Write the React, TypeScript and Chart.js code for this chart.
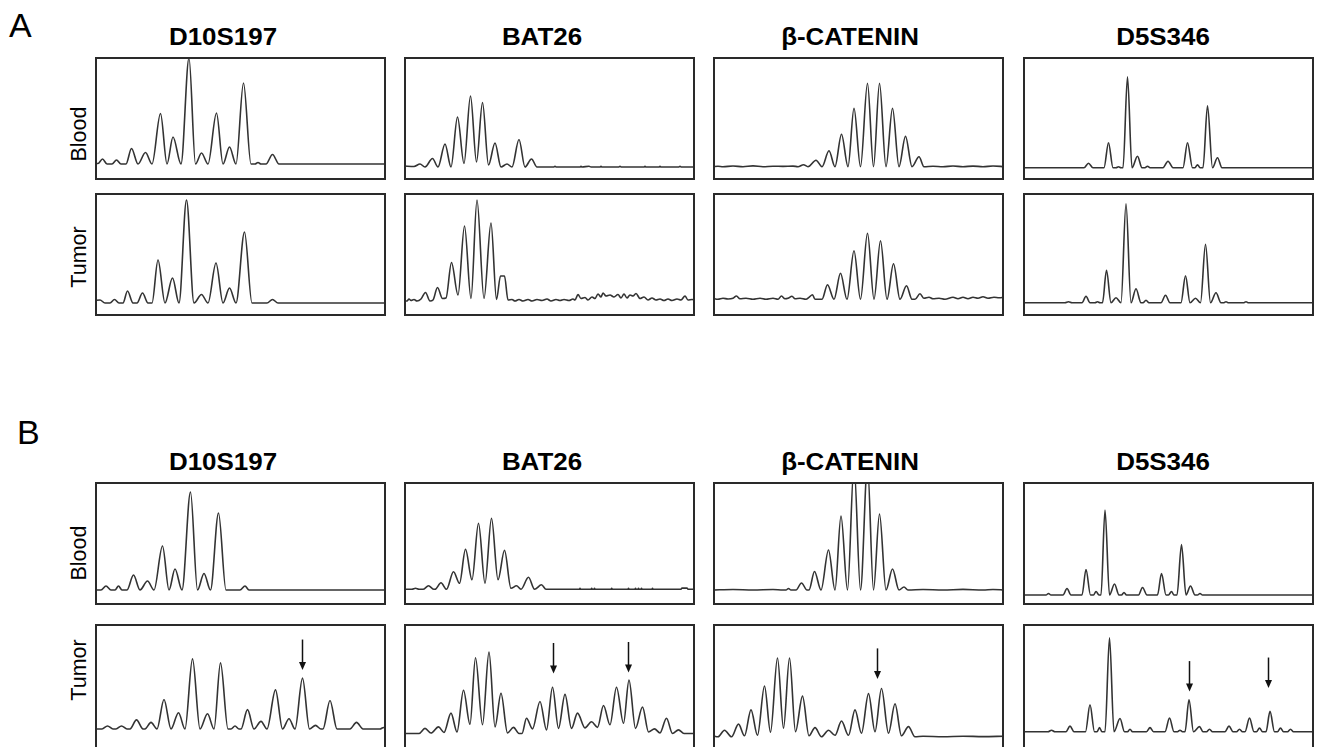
import React, { useEffect, useRef } from "react";
import { Chart, registerables } from "chart.js";

Chart.register(...registerables);

type Pt = [number, number];
type Arrow = [number, number, number]; // x, arrow top (y), arrow tip (y)

// ---------- text ----------
const figureLetters = ["A", "B"];
const markers = ["D10S197", "BAT26", "β-CATENIN", "D5S346"];
const samples = ["Blood", "Tumor"];

// ---------- traces: [size position, signal above baseline] ----------
const A_D10S197_Blood: Pt[] = [[0,1],[3,0.5],[7.5,5],[12,0],[17,0],[21.5,4],[26,0],[31,0],[36.5,15.5],[43,0],[50.5,11.5],[57,0],[65.5,50.5],[72,0],[78,27],[86,0],[94,106],[100.5,0],[106.5,11],[113,0],[121.5,51],[128,0],[134.5,17],[141,0],[148.5,81],[156,0],[160,0],[163,1.5],[166,0],[171,0],[177.5,9.5],[184,0],[291,0]];
const A_D10S197_Tumor: Pt[] = [[0,2.5],[5,3],[10,0],[15,0],[19.5,3.5],[24,0],[28,0],[32.5,12],[38,0],[42,0],[47.5,10],[53,0],[57,0],[63,43],[70,0],[77.5,25],[84,0],[91.5,103],[99,0],[106.5,8.5],[113,0],[121,40],[128,0],[134.5,15],[141,0],[149.5,71],[157,0],[172,0],[177.5,3.5],[183,0],[291,0]];
const A_BAT26_Blood: Pt[] = [[0,1],[10,0.5],[16,3],[21,0],[28.5,8.5],[34,0],[41,23],[47,0],[53.5,50],[60,3.5],[66.5,71],[72.5,5],[78.5,64.5],[84.5,2],[91,24],[97,0],[103,3],[108,0],[115,27.5],[121,0],[127.5,8],[133,0],[150,0],[151,0.8],[152,0],[176,0],[177,0.7],[178,0],[185,0.7],[187,0],[196,0],[197,0.7],[198,0],[215,0],[216,0.8],[217,0],[240,0],[241,0.7],[242,0],[255,0],[256,0.7],[257,0],[275,0],[276,0.8],[277,0],[291,0]];
const A_BAT26_Tumor: Pt[] = [[0,1],[3,0],[5,2],[7,0.5],[10,1.5],[13,0],[17,2],[21.5,8.5],[26,0],[29,1],[33.5,13.5],[38.5,2.5],[42,3],[47.5,38.5],[54,6],[60.5,75],[67,2.5],[73,101],[80,2.5],[87,78],[92.5,1.5],[96.5,25],[100.5,25],[104,1],[108,1.5],[111,0],[115,1.5],[119,0],[124,1.5],[128,0],[133,1.5],[138,0.5],[143,2],[147,0],[152,1.5],[156,0.5],[160,1.5],[165,0.5],[169,2],[171,1],[174,6.5],[177,2.5],[181,3.5],[184,1],[188,4],[191,2.5],[194,7],[197,4],[199,8],[202,5],[206,6],[210,4],[214,6.5],[217,3],[220,7],[223,3],[226,6],[229,5],[232,7.5],[236,2.5],[240,4],[244,1],[248,3],[252,1],[256,2],[260,0.5],[264,2],[268,0.5],[273,2],[277,1],[281,5],[284,1],[288,1.5],[291,1]];
const A_CATENIN_Blood: Pt[] = [[0,0],[5,0.5],[10,0],[20,0.7],[30,0],[40,0.8],[50,0],[60,0.5],[70,0.3],[80,0.6],[85,0],[90.5,2],[95,0],[103,6.5],[109,0],[116,16],[122,0],[128.5,32.5],[135,0],[141,58.5],[147.5,0],[154.5,83.5],[160.5,0],[166.5,83.5],[173,0],[179.5,58.5],[186,0],[192.5,30.5],[199,0],[206,10],[211,0],[220,0.5],[230,0],[240,0.7],[250,0],[260,0.6],[270,0],[280,0.7],[291,0]];
const A_CATENIN_Tumor: Pt[] = [[0,1],[5,0],[10,1],[15,0.3],[20,1],[23.5,3.3],[27,0.5],[33,1],[40,0],[47,1],[53,0],[60,1],[65,0],[68.5,3.3],[72,0.5],[75,1],[79,3],[82,0.5],[87,1],[93,0],[96,2],[99.5,4.5],[102,0],[109,0],[114.5,14.5],[121,0],[127.5,26],[134,0],[141,48.5],[147.5,0],[154.5,66],[161,0],[167.5,58.5],[174,0],[180.5,35.5],[187,0],[193.5,13.5],[199,0],[202,0],[207,5.5],[211,1],[216,2],[220,0.5],[226,1],[232,0],[240,2],[245,0.5],[250,2],[255,0.5],[260,2],[265,1],[270,2.5],[275,1],[281,2],[286,1.5],[291,2]];
const A_D5S346_Blood: Pt[] = [[0,0],[61,0],[65.5,4.5],[70,0],[81,0],[85.5,25],[90,0],[93,0],[95.5,1],[98,0],[100,0],[104.5,91],[109,0],[114.5,11.5],[119,0],[122,0],[124.5,1.5],[127,0],[140,0],[145,6.5],[150,0],[160,0],[164.5,25],[169.5,0],[172,0],[174.5,3],[177,0],[180,0],[184.5,62],[189.5,0],[194.5,10],[199,0],[291,0]];
const A_D5S346_Tumor: Pt[] = [[0,0],[42,0],[45.5,1],[49,0],[59,0],[63,6.5],[67,0],[72,0],[74.5,1],[77,0],[79.5,0],[83.5,32.5],[88,0],[93,5],[98,0],[103,99],[108,0],[113,14],[118,0],[120,0],[123,2.5],[126,0],[138,0],[142.5,7.5],[147,0],[158,0],[162.5,27],[167,0],[172.5,4.5],[177.5,0],[182.5,58.5],[187.5,0],[193,10],[198,0],[201,0],[203,1],[205,0],[221,0],[223,1],[225,0],[291,0]];

const B_D10S197_Blood: Pt[] = [[0,0],[6,0],[11,4],[16,0],[20,0],[23.5,4],[27,0],[32,0],[38.5,15],[45,0],[52.5,9],[59,0],[67.5,44],[74,0],[80,21],[87,0],[95.5,98],[102.5,0],[109,16.5],[115.5,0],[123.5,77],[131,0],[145,0],[150,4],[154,0],[291,0]];
const B_D10S197_Tumor: Pt[] = [[0,0],[7,0],[12.5,3],[18,0],[21,0],[26.5,3],[32,0],[35,0],[41.5,9],[48,0],[50,0],[56,6.5],[62,0],[69,29],[76,0],[83.5,16],[90,0],[97.5,69],[105,0],[112.5,15],[119,0],[125.5,65],[133,0],[136,0],[140,3],[144,0],[146,0],[152.5,19],[159,0],[166,7.5],[172,0],[180.5,38.5],[187.5,0],[194,10],[200,0],[207.5,50],[214.5,0],[220.5,3.5],[226,0],[228,0],[235,28],[242,0],[255,0],[261.5,6.5],[268,0],[285,0],[288.5,1.5],[291,0]];
const B_BAT26_Blood: Pt[] = [[0,0],[8,0],[11.5,1],[15,0],[19,0],[24.5,3.5],[30,0],[31,0],[37,6.5],[42.5,0],[49.5,17.5],[55.5,6],[61.5,40],[68,9.5],[74.5,66],[81,6],[87.5,71],[94,9.5],[100.5,39],[107,1],[112.5,3.5],[117,0],[124.5,12],[130.5,0],[137.5,4.5],[142,0],[175.5,0],[176,1],[176.5,0],[187,0],[187.7,1],[188.4,0],[190,0],[190.5,1],[191,0],[207,0],[207.7,1],[208.4,0],[224,0],[224.5,1],[225,0],[231,0],[231.5,1],[232,0],[234,0],[234.5,1],[235,0],[237,0],[237.5,1],[238,0],[248,0],[248.5,1],[249,0],[277,0],[278,1.2],[283,1.2],[284,0],[291,0]];
const B_BAT26_Tumor: Pt[] = [[0,0],[8,0],[15,0],[21,5],[27,0.5],[34.5,6.5],[40,1],[47,20],[53,1.5],[59.5,42.5],[66,9],[71.5,74.5],[78.5,8.5],[85,80],[91,6.5],[97,39.5],[103.5,0.5],[109.5,6],[115,0],[118,0],[122.5,15],[128.5,4.5],[136,31.5],[142.5,3.5],[148.5,45.5],[154.5,5],[161,38.5],[167.5,5],[173.5,20],[181,5.5],[187.5,11.5],[193.5,6],[199.5,27.5],[206,8.5],[212.5,45.5],[219.5,10],[225,52.5],[231.5,5],[238.5,26],[244.5,1.5],[250.5,4.5],[256,0.5],[262.5,15],[268.5,0],[274.5,3.5],[280,0],[291,0]];
const B_CATENIN_Blood: Pt[] = [[0,0],[20,0.5],[40,0],[60,0.5],[70,0],[73,0],[75.5,1.5],[78,0],[83,0],[88.5,7],[94,0],[96,0],[101.5,18.5],[108,0],[115.5,40],[122,0],[128,74],[134.5,0],[141,125],[147.5,0],[154.5,125],[160.5,0],[166.5,76],[173,0],[179.5,21],[186,0],[191,3],[195,0],[210,0.5],[230,0],[250,0.6],[270,0],[280,0.5],[291,0]];
const B_CATENIN_Tumor: Pt[] = [[0,1],[5,0],[11.5,6.5],[18.5,0],[25.5,12.5],[31.5,1],[38,26.5],[44.5,1.5],[51.5,50],[57.5,4.5],[64.5,77.5],[70.5,8.5],[76.5,77.5],[82.5,5],[89.5,40],[96,1],[102,9],[108.5,0],[115.5,6.5],[122,1.5],[128.5,15.5],[135.5,1.5],[142,26.5],[148.5,3.5],[155.5,42.5],[162,5],[168.5,47.5],[175.5,3.5],[182,32.5],[188.5,1],[195.5,10],[202,0],[210,0.5],[230,0],[250,0.6],[270,0.2],[291,0.5]];
const B_D5S346_Blood: Pt[] = [[0,0],[23,0],[25.5,1.5],[28,0],[40,0],[44,6.5],[48,0],[59,0],[63,25.5],[67.5,0],[70.5,0],[73,3.5],[76,0],[78,0],[82,85],[86.5,0],[91.5,11],[96,0],[98.5,0],[101,2.5],[103.5,0],[115.5,0],[119.5,7.5],[124,0],[134.5,0],[138.5,21.5],[143,0],[145.5,0],[148.5,3.5],[151,0],[154,0],[158.5,50.5],[163,0],[167.5,9],[172,0],[174.5,0],[177,1.5],[179.5,0],[291,0]];
const B_D5S346_Tumor: Pt[] = [[0,0],[25,0],[28.5,1.5],[32,0],[43,0],[47,5.5],[51,0],[62.5,0],[67,26.5],[71.5,0],[74,0],[76.5,4],[79,0],[82,0],[86.5,92.5],[91,0],[97,13],[101.5,0],[104.5,0],[107,2.5],[109.5,0],[123.5,0],[127,4],[130.5,0],[142,0],[146.5,13.5],[151,0],[154.5,0],[157,1.5],[159.5,0],[162,0],[166,31.5],[170.5,0],[176.5,5],[180,0],[183.5,0],[186.5,2.5],[189.5,0],[202,0],[206,5.5],[210,0],[213.5,0],[216.5,2.5],[219.5,0],[222,0],[226.5,13.5],[231,0],[233.5,0],[236.5,3.5],[239.5,0],[243,0],[247,20],[251.5,0],[254.5,0],[257.5,3.5],[260.5,0],[264.5,0],[267.5,2.5],[270.5,0],[291,0]];

// ---------- arrows marking new alleles in tumor ----------
const B_D10S197_Arrows: Arrow[] = [[207.3, 88, 58]];
const B_BAT26_Arrows: Arrow[] = [[149.3, 89, 59], [223.7, 90, 60]];
const B_CATENIN_Arrows: Arrow[] = [[164.3, 87, 57]];
const B_D5S346_Arrows: Arrow[] = [[166, 69.5, 39.5], [245.3, 73, 43]];

// ---------- y ranges (signal scale) per panel: [min, max] ----------
const A_Blood_Ranges: Pt[] = [[-16, 107], [-13, 110], [-13.3, 109.7], [-12.3, 110.7]];
const A_Tumor_Ranges: Pt[] = [[-13, 110], [-15, 108], [-16.7, 106.3], [-13.3, 109.7]];
const B_Blood_Ranges: Pt[] = [[-15, 108], [-15.7, 107.3], [-15, 108], [-10, 113]];
const B_Tumor_Ranges: Pt[] = [[-19.7, 103.3], [-15.3, 107.7], [-12, 111], [-17, 106]];

const X_MAX = 291;

// ---------- layout ----------
const COL_LEFT = [95, 404, 713, 1023];
const ROW_TOP = [57, 193, 482, 624];
const BOX_W = 291;
const BOX_H = 123;
const TITLE_X = [223, 542, 850, 1163];
const FONT = '"Liberation Sans", Arial, Helvetica, sans-serif';

interface PanelProps {
  points: Pt[];
  range: Pt;
  arrows: Arrow[];
  left: number;
  top: number;
  height: number;
}

function Panel({ points, range, arrows, left, top, height }: PanelProps) {
  const ref = useRef<HTMLCanvasElement | null>(null);
  useEffect(() => {
    if (!ref.current) return;
    const boxPlugin = {
      id: "boxAndArrows",
      afterDatasetsDraw(chart: any) {
        const { ctx, chartArea: a, scales } = chart;
        ctx.save();
        ctx.strokeStyle = "#2a2a2a";
        ctx.lineWidth = 2;
        ctx.strokeRect(a.left + 1, a.top + 1, a.right - a.left - 2, a.bottom - a.top - 2);
        for (const [x, yTop, yTip] of arrows) {
          const px = Math.round(scales.x.getPixelForValue(x)) + 0.5;
          const p0 = scales.y.getPixelForValue(yTop);
          const p1 = scales.y.getPixelForValue(yTip);
          ctx.strokeStyle = "#111";
          ctx.fillStyle = "#111";
          ctx.lineWidth = 1.5;
          ctx.beginPath();
          ctx.moveTo(px, p0);
          ctx.lineTo(px, p1 - 6);
          ctx.stroke();
          ctx.beginPath();
          ctx.moveTo(px - 3.5, p1 - 8);
          ctx.lineTo(px + 3.5, p1 - 8);
          ctx.lineTo(px, p1);
          ctx.closePath();
          ctx.fill();
        }
        ctx.restore();
      },
    };
    const chart = new Chart(ref.current, {
      type: "line",
      data: {
        datasets: [
          {
            data: points.map(([x, y]) => ({ x, y })),
            borderColor: "#333333",
            borderWidth: 1.6,
            pointRadius: 0,
            fill: false,
            cubicInterpolationMode: "monotone",
          } as any,
        ],
      },
      options: {
        responsive: false,
        animation: false,
        events: [],
        layout: { padding: 0 },
        plugins: { legend: { display: false }, tooltip: { enabled: false } },
        scales: {
          x: { type: "linear", min: 0, max: X_MAX, display: false },
          y: { type: "linear", min: range[0], max: range[1], display: false },
        },
      },
      plugins: [boxPlugin],
    });
    return () => chart.destroy();
  }, []);
  return (
    <canvas
      ref={ref}
      width={BOX_W}
      height={height}
      style={{ position: "absolute", left, top, width: BOX_W, height }}
    />
  );
}

const panelRows = [
  { traces: [A_D10S197_Blood, A_BAT26_Blood, A_CATENIN_Blood, A_D5S346_Blood], ranges: A_Blood_Ranges, arrows: [[], [], [], []] as Arrow[][] },
  { traces: [A_D10S197_Tumor, A_BAT26_Tumor, A_CATENIN_Tumor, A_D5S346_Tumor], ranges: A_Tumor_Ranges, arrows: [[], [], [], []] as Arrow[][] },
  { traces: [B_D10S197_Blood, B_BAT26_Blood, B_CATENIN_Blood, B_D5S346_Blood], ranges: B_Blood_Ranges, arrows: [[], [], [], []] as Arrow[][] },
  { traces: [B_D10S197_Tumor, B_BAT26_Tumor, B_CATENIN_Tumor, B_D5S346_Tumor], ranges: B_Tumor_Ranges, arrows: [B_D10S197_Arrows, B_BAT26_Arrows, B_CATENIN_Arrows, B_D5S346_Arrows] },
];

const TITLE_TOPS = [25, 450];
const LETTER_POS = [
  { left: 9, top: 7.5 },
  { left: 17, top: 414.5 },
];
const SAMPLE_LABEL_Y = [133.5, 257, 552.5, 670];

export default function App() {
  return (
    <div
      style={{
        position: "absolute",
        left: 0,
        top: 0,
        width: 1320,
        height: 747,
        overflow: "hidden",
        background: "#fff",
        fontFamily: FONT,
        color: "#000",
      }}
    >
      {figureLetters.map((L, i) => (
        <div
          key={L}
          style={{
            position: "absolute",
            left: LETTER_POS[i].left,
            top: LETTER_POS[i].top,
            fontSize: 34,
            lineHeight: "34px",
            whiteSpace: "nowrap",
          }}
        >
          {L}
        </div>
      ))}
      {TITLE_TOPS.map((t, r) =>
        markers.map((m, c) => (
          <div
            key={`t${r}${c}`}
            style={{
              position: "absolute",
              left: TITLE_X[c],
              top: t,
              fontSize: 24,
              lineHeight: "24px",
              fontWeight: "bold",
              whiteSpace: "nowrap",
              transform: "translateX(-50%) scaleX(1.08)",
            }}
          >
            {m}
          </div>
        ))
      )}
      {SAMPLE_LABEL_Y.map((y, i) => (
        <div
          key={`s${i}`}
          style={{
            position: "absolute",
            left: 78.5,
            top: y,
            fontSize: 21.5,
            lineHeight: "22px",
            whiteSpace: "nowrap",
            transform: "translate(-50%, -50%) rotate(-90deg)",
          }}
        >
          {samples[i % 2]}
        </div>
      ))}
      {panelRows.map((row, r) =>
        row.traces.map((tr, c) => (
          <Panel
            key={`p${r}${c}`}
            points={tr}
            range={row.ranges[c]}
            arrows={row.arrows[c]}
            left={COL_LEFT[c]}
            top={ROW_TOP[r]}
            height={r === 3 ? BOX_H + 2 : BOX_H}
          />
        ))
      )}
    </div>
  );
}
